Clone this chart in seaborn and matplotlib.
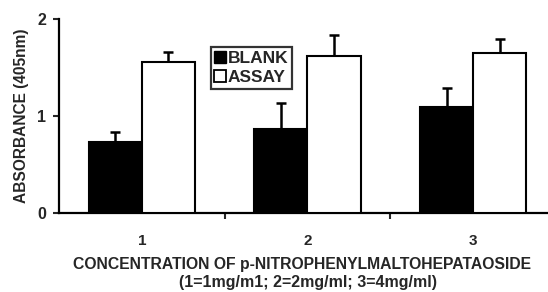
import matplotlib
matplotlib.use("Agg")
import matplotlib.pyplot as plt
import seaborn as sns
import pandas as pd
import numpy as np
from matplotlib.lines import Line2D

categories = ["1", "2", "3"]
series = ["BLANK", "ASSAY"]
blank_vals = [0.73, 0.87, 1.09]
assay_vals = [1.56, 1.62, 1.65]
blank_err = [0.10, 0.26, 0.20]
assay_err = [0.10, 0.22, 0.14]
y_ticks = [0, 1, 2]

sns.set_style("white")
plt.rcParams['font.family'] = ['Liberation Sans', 'DejaVu Sans']
plt.rcParams['font.weight'] = 'bold'

df = pd.DataFrame({
    "cat": categories * 2,
    "series": [series[0]] * 3 + [series[1]] * 3,
    "val": blank_vals + assay_vals,
    "err": blank_err + assay_err,
})

fig = plt.figure(figsize=(5.48, 2.92), dpi=100)
ax = fig.add_axes([59 / 548, 1 - 213 / 292, (556 - 59) / 548, (213 - 19) / 292])

sns.barplot(data=df, x="cat", y="val", hue="series", order=categories,
            hue_order=series, palette=["black", "white"], width=0.64,
            edgecolor="black", linewidth=1.5, errorbar=None, ax=ax,
            legend=False, zorder=3)

# one-sided error bars drawn from bar geometry
for patch, (s, c) in zip(ax.patches, [(s, c) for s in series for c in categories]):
    row = df[(df.series == s) & (df.cat == c)].iloc[0]
    xc = patch.get_x() + patch.get_width() / 2
    ax.errorbar(xc, row.val, yerr=[[0], [row.err]], fmt="none", ecolor="black",
                elinewidth=1.8, capsize=3.5, capthick=1.8, zorder=2)

ax.set_xlim(-0.5, 2.5)
ax.set_ylim(0, 2)
ax.set_yticks(y_ticks)
ax.set_yticklabels([str(t) for t in y_ticks], fontsize=11.5, fontweight="bold")
ax.set_xticks([0, 1, 2])
ax.set_xticklabels(categories, fontsize=11, fontweight="bold")
ax.tick_params(axis="x", length=0, pad=15)
ax.tick_params(axis="y", length=4, width=1.5, direction="out", left=True, pad=5)
# minor ticks between groups
ax.set_xticks([0.5, 1.5], minor=True)
ax.tick_params(axis="x", which="minor", length=4, width=1.5, direction="out", bottom=True)

for sp in ["top", "right"]:
    ax.spines[sp].set_visible(False)
for sp in ["left", "bottom"]:
    ax.spines[sp].set_linewidth(1.6)
    ax.spines[sp].set_color("black")

ax.set_xlabel("")
ax.set_ylabel("ABSORBANCE (405nm)", fontsize=11.2, fontweight="bold", labelpad=6)

fig.text(302 / 548, 1 - 264 / 292, "CONCENTRATION OF p-NITROPHENYLMALTOHEPATAOSIDE",
         ha="center", va="center", fontsize=11.3, fontweight="bold")
fig.text(308 / 548, 1 - 283 / 292, "(1=1mg/m1; 2=2mg/ml; 3=4mg/ml)",
         ha="center", va="center", fontsize=11.5, fontweight="bold")

handles = [Line2D([], [], marker="s", linestyle="none", markerfacecolor="black",
                  markeredgecolor="black", markersize=9),
           Line2D([], [], marker="s", linestyle="none", markerfacecolor="white",
                  markeredgecolor="black", markersize=9, markeredgewidth=1.3)]
leg = ax.legend(handles, series, loc="upper left", bbox_to_anchor=(211 / 548, 1 - 47 / 292),
                bbox_transform=fig.transFigure, frameon=True, fancybox=False,
                edgecolor="black", handlelength=0.55, handletextpad=0.15,
                borderpad=0.25, labelspacing=0.2, borderaxespad=0,
                prop={"weight": "bold", "size": 12.5})
leg.get_frame().set_linewidth(1.6)

fig.savefig("out.png", dpi=100)
